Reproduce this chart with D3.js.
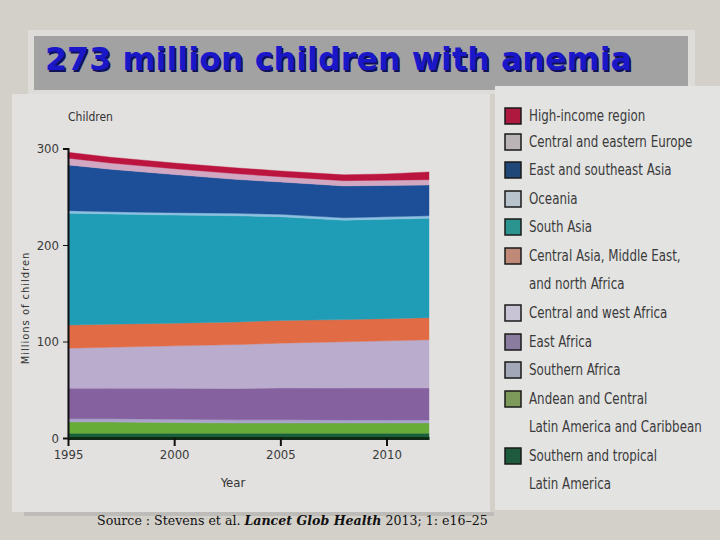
<!DOCTYPE html>
<html>
<head>
<meta charset="utf-8">
<script src="https://cdn.jsdelivr.net/npm/d3@7"></script>
<style>
  body { margin: 0; background: #d3d0ca; }
  svg { display: block; }
  .tick text { font-family: "Liberation Sans Narrow", "DejaVu Sans Condensed", sans-serif; font-size: 13px; fill: #3a3a3a; }
</style>
</head>
<body>
<svg id="chart" width="720" height="540"></svg>
<script>
// 年份
const years = [1995, 1997, 2000, 2003, 2005, 2008, 2010, 2012];

// 各地区（从下到上），单位：百万儿童
const stLatinAmerica = [5, 5, 5, 5, 5, 5, 5, 5];
const andeanCaribbean = [11.5, 11.5, 11, 10.5, 10.5, 10.5, 10.5, 10.5];
const southernAfrica = [3.5, 3.5, 3.5, 3.3, 3.3, 3.2, 3.2, 3.2];
const eastAfrica = [31.5, 31.5, 32, 32.5, 33, 33, 33, 33];
const centralWestAfrica = [41.5, 42.5, 44, 45.5, 46.5, 48, 49, 50];
const midEastNorthAfrica = [24, 24, 23.5, 23.5, 23.5, 23, 23, 23];
const southAsia = [116, 114, 112, 110, 107.5, 103, 103, 103];
const oceania = [2.5, 2.5, 2.5, 2.5, 2.5, 2.5, 2.5, 2.5];
const eastSoutheastAsia = [47.5, 44, 39.5, 35, 33.5, 33, 32.5, 32];
const centralEastEurope = [7, 6.5, 6, 6, 5.5, 5.5, 5.5, 5.5];
const highIncome = [6, 6, 6, 6, 6, 6, 6.5, 8];

// 图例标签（从上到下）
const legendLabels = [
  ["High-income region"],
  ["Central and eastern Europe"],
  ["East and southeast Asia"],
  ["Oceania"],
  ["South Asia"],
  ["Central Asia, Middle East,", "and north Africa"],
  ["Central and west Africa"],
  ["East Africa"],
  ["Southern Africa"],
  ["Andean and Central", "Latin America and Caribbean"],
  ["Southern and tropical", "Latin America"]
];

const yTicks = [0, 100, 200, 300];
const xTicks = [1995, 2000, 2005, 2010];

// 颜色
const seriesList = [
  { key: "stla", values: stLatinAmerica, fill: "#17603a", swatch: "#1d5a3e" },
  { key: "andean", values: andeanCaribbean, fill: "#67ac38", swatch: "#7d9a5a" },
  { key: "safr", values: southernAfrica, fill: "#aaa4cc", swatch: "#a3a8b8" },
  { key: "eafr", values: eastAfrica, fill: "#86619f", swatch: "#8a7c9e" },
  { key: "cwafr", values: centralWestAfrica, fill: "#baaccd", swatch: "#c8c4d6" },
  { key: "mena", values: midEastNorthAfrica, fill: "#e06b45", swatch: "#c08876" },
  { key: "sasia", values: southAsia, fill: "#209db6", swatch: "#2c948f" },
  { key: "oceania", values: oceania, fill: "#8cc0e0", swatch: "#b8c3cb" },
  { key: "easia", values: eastSoutheastAsia, fill: "#1c4f98", swatch: "#1f4878" },
  { key: "cee", values: centralEastEurope, fill: "#d1a7c2", swatch: "#bab4b6" },
  { key: "hi", values: highIncome, fill: "#bb143e", swatch: "#b0193f" }
];

const svg = d3.select("#chart");

// 标题框
svg.append("rect").attr("x", 28).attr("y", 30).attr("width", 667).attr("height", 64)
  .attr("fill", "#dedcd8");
svg.append("rect").attr("x", 34).attr("y", 36).attr("width", 654).attr("height", 54)
  .attr("fill", "#a2a2a3");
const titleText = "273 million children with anemia";
svg.append("text").attr("x", 45).attr("y", 70)
  .attr("font-family", "DejaVu Sans, sans-serif").attr("font-weight", "bold")
  .attr("font-size", 31.8).attr("fill", "#10105a").attr("dx", 1.5).attr("dy", 1.5)
  .text(titleText);
svg.append("text").attr("x", 45).attr("y", 70)
  .attr("font-family", "DejaVu Sans, sans-serif").attr("font-weight", "bold")
  .attr("font-size", 31.8).attr("fill", "#1a17c8")
  .text(titleText);

// 面板
svg.append("rect").attr("x", 12).attr("y", 94).attr("width", 478).attr("height", 418)
  .attr("fill", "#e2e1df");
svg.append("rect").attr("x", 495).attr("y", 86).attr("width", 225).attr("height", 424)
  .attr("fill", "#e3e3e2");
svg.append("rect").attr("x", 24).attr("y", 512).attr("width", 470).attr("height", 4)
  .attr("fill", "#bdbcb8");

// 比例尺
const x = d3.scaleLinear().domain([1995, 2012]).range([68, 429]);
const y = d3.scaleLinear().domain([0, 300]).range([438, 148.5]);

// 堆叠
const table = years.map((yr, i) => {
  const row = { year: yr };
  seriesList.forEach(s => { row[s.key] = s.values[i]; });
  return row;
});
const stacked = d3.stack().keys(seriesList.map(s => s.key))(table);

const area = d3.area()
  .x(d => x(d.data.year))
  .y0(d => y(d[0]))
  .y1(d => y(d[1]));

svg.append("g").selectAll("path")
  .data(stacked)
  .join("path")
  .attr("d", area)
  .attr("fill", (d, i) => seriesList[i].fill)
  .attr("stroke", (d, i) => seriesList[i].fill)
  .attr("stroke-width", 0.4);

// 坐标轴
svg.append("g")
  .attr("transform", "translate(68,0)")
  .call(d3.axisLeft(y).tickValues(yTicks).tickSize(5).tickPadding(4))
  .call(g => g.select(".domain").attr("stroke", "#111").attr("stroke-width", 2));

svg.append("g")
  .attr("transform", "translate(0,438)")
  .call(d3.axisBottom(x).tickValues(xTicks).tickFormat(d3.format("d")).tickSize(8).tickSizeOuter(0).tickPadding(4))
  .call(g => g.select(".domain").attr("stroke", "#0e2a14").attr("stroke-width", 3))
  .call(g => g.selectAll(".tick line").attr("stroke", "#111").attr("stroke-width", 2));

svg.selectAll(".tick line").attr("stroke", "#111");

// 轴标题
svg.append("text").attr("x", 68).attr("y", 121)
  .attr("font-family", "Liberation Sans Narrow, DejaVu Sans Condensed, sans-serif")
  .attr("font-size", 12).attr("fill", "#333").text("Children");
svg.append("text").attr("x", 233).attr("y", 487).attr("text-anchor", "middle")
  .attr("font-family", "Liberation Sans Narrow, DejaVu Sans Condensed, sans-serif")
  .attr("font-size", 13).attr("fill", "#333").text("Year");
svg.append("text")
  .attr("transform", "translate(29,308) rotate(-90)").attr("text-anchor", "middle")
  .attr("font-family", "Liberation Sans Narrow, DejaVu Sans Condensed, sans-serif")
  .attr("font-size", 11).attr("fill", "#333").attr("letter-spacing", 1)
  .text("Millions of children");

// 图例
const legendRows = [116, 142, 170, 199, 227, 256, 313, 342, 370, 399, 456];
const legendSeries = seriesList.slice().reverse();
const legend = svg.append("g");
legendLabels.forEach((lines, i) => {
  const cy = legendRows[i];
  legend.append("rect").attr("x", 505).attr("y", cy - 8).attr("width", 16).attr("height", 16)
    .attr("fill", legendSeries[i].swatch).attr("stroke", "#1a1a1a").attr("stroke-width", 1.5);
  lines.forEach((t, j) => {
    legend.append("text")
      .attr("transform", `translate(529,${cy + 5 + j * 28}) scale(0.88,1)`)
      .attr("font-family", "Liberation Sans Narrow, DejaVu Sans Condensed, sans-serif")
      .attr("font-size", 15).attr("fill", "#3a3a3a").text(t);
  });
});

// 来源
const src = svg.append("text").attr("x", 97).attr("y", 525)
  .attr("font-family", "DejaVu Serif, serif").attr("font-size", 12.6).attr("fill", "#111");
src.append("tspan").text("Source : Stevens et al. ");
src.append("tspan").attr("font-style", "italic").attr("font-weight", "bold").text("Lancet Glob Health");
src.append("tspan").text(" 2013; 1: e16–25");
</script>
</body>
</html>
